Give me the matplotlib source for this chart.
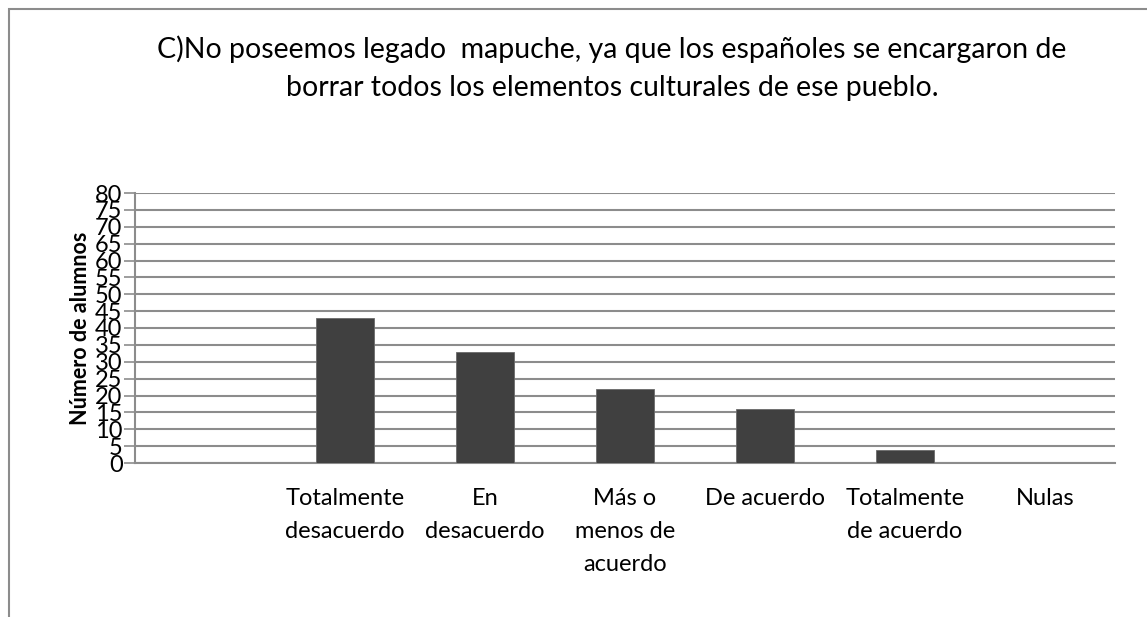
import matplotlib
matplotlib.use("Agg")
import matplotlib.pyplot as plt
from matplotlib.patches import Rectangle

plt.rcParams['font.family'] = ['Lato', 'DejaVu Sans']

title = ("C)No poseemos legado  mapuche, ya que los españoles se encargaron de\n"
         "borrar todos los elementos culturales de ese pueblo.")
categories = ["", "Totalmente\ndesacuerdo", "En\ndesacuerdo", "Más o\nmenos de\nacuerdo",
              "De acuerdo", "Totalmente\nde acuerdo", "Nulas"]
alumnos = [0, 43, 33, 22, 16, 4, 0]
yticks = list(range(0, 81, 5))

W, H = 1147, 617
fig = plt.figure(figsize=(W / 100, H / 100), dpi=100)

# chart frame (cropped on the right and bottom like the source)
fig.patches.append(Rectangle((9 / W, -0.1), 1.2, 1 - 9 / H + 0.1, transform=fig.transFigure,
                             fill=False, edgecolor='#8c8c8c', linewidth=1.5))

ax = fig.add_axes([135 / W, 1 - 463 / H, (1115 - 135) / W, (463 - 193) / H])
x = range(len(categories))
ax.bar(x, alumnos, width=0.41, color='#404040', edgecolor='#6a6a6a', linewidth=0.6, zorder=3)

ax.set_xlim(-0.5, len(categories) - 0.5)
ax.set_ylim(0, 80)
ax.set_yticks(yticks)
ax.set_yticklabels([str(v) for v in yticks], fontsize=17)
ax.set_xticks(list(x))
ax.set_xticklabels(categories, fontsize=17, linespacing=1.7, va='top')
ax.tick_params(axis='x', length=0, pad=18)
ax.tick_params(axis='y', length=8, width=1.2, color='#8c8c8c', pad=1)
ax.yaxis.grid(True, color='#8c8c8c', linewidth=1.5, zorder=0)
ax.set_axisbelow(True)
for s in ['top', 'right']:
    ax.spines[s].set_visible(False)
ax.spines['bottom'].set_color('#8c8c8c')
ax.spines['bottom'].set_linewidth(1.5)
ax.spines['left'].set_color('#8c8c8c')
ax.spines['left'].set_linewidth(1.5)

ax.set_ylabel('Número de alumnos', fontsize=15.5, fontweight='bold', labelpad=3)

fig.text(612 / W, 1 - 68 / H, title, ha='center', va='center', fontsize=20.5, linespacing=1.55)

fig.savefig('out.png', dpi=100, facecolor='white')
